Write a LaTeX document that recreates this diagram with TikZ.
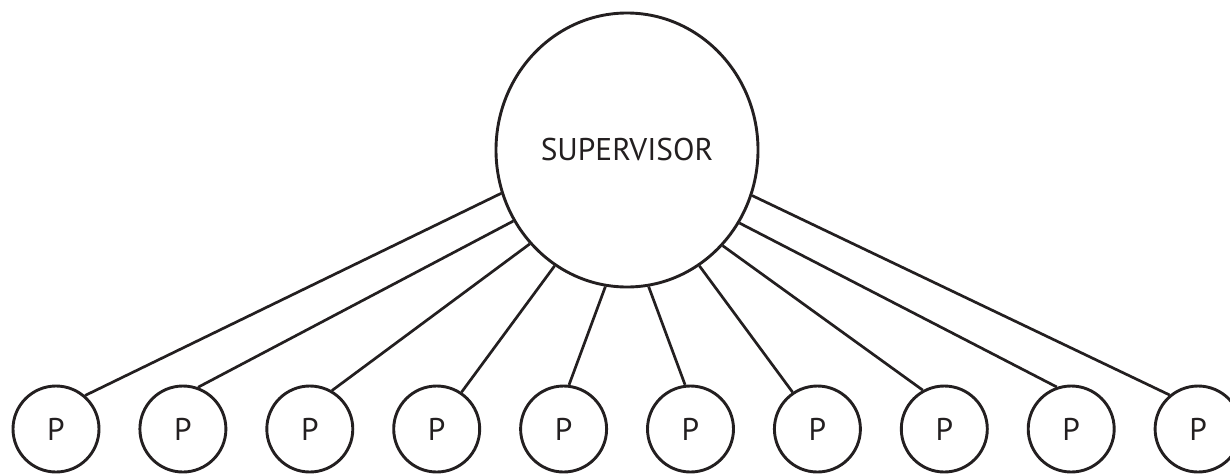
\documentclass[tikz,border=0pt]{standalone}
\usepackage{fontspec}
\setmainfont{PT Sans}
\usetikzlibrary{shapes.geometric}
\definecolor{ink}{HTML}{231F20}
\begin{document}
\begin{tikzpicture}[x=1pt,y=-1pt,
  lbl/.style={font=\fontsize{31.4}{36}\selectfont, text=ink},
  boss/.style={ellipse, draw=ink, line width=2.9pt, minimum width=262pt,
               minimum height=274pt, inner sep=0pt, lbl},
  worker/.style={circle, draw=ink, line width=2.9pt, minimum size=86pt,
                 inner sep=0pt, lbl},
  link/.style={draw=ink, line width=2.7pt}]
\useasboundingbox (0,0) rectangle (1230,474);
\clip (0,0) rectangle (1230,474);
% supervisor at the top
\node[boss] (sup) at (627,150) {SUPERVISOR};
% row of workers
\foreach \i in {0,...,9}
  \node[worker] (p\i) at (56+126.9*\i,429) {P};
% links: worker anchor angle / supervisor anchor angle
\foreach \i/\a/\b in {0/49.5/199.75, 1/70.5/212.5, 2/60.5/224.8, 3/56/238,
                      4/83/261, 5/97/279, 6/124/302, 7/119.5/315.2,
                      8/109.5/327.5, 9/130.5/340.25}
  \draw[link] (p\i.\a) -- (sup.\b);
\end{tikzpicture}
\end{document}
